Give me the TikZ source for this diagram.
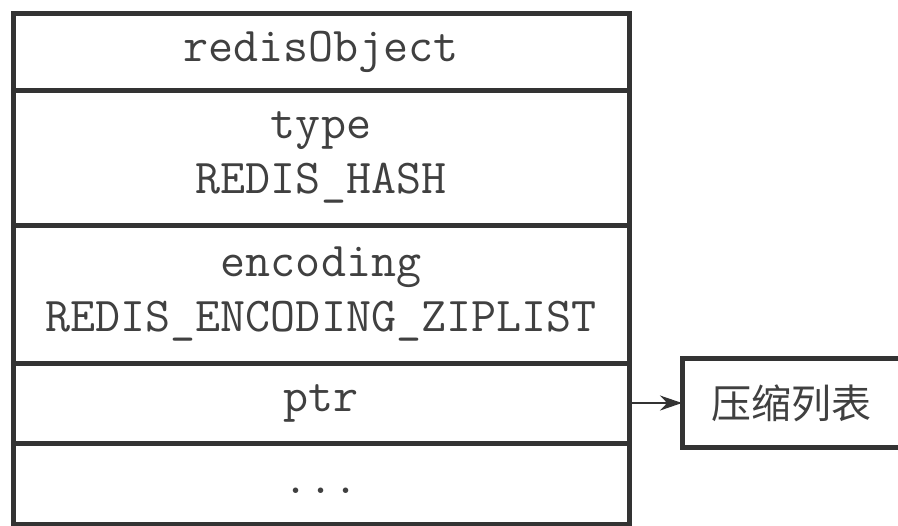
\documentclass[tikz,border=0pt]{standalone}
\usepackage{fontspec}
\newfontfamily\cjk{Noto Sans CJK SC}
\usetikzlibrary{arrows.meta,positioning}
\definecolor{ink}{HTML}{333333}
\definecolor{txt}{HTML}{404040}
\tikzset{
  field/.style={rectangle, draw=ink, fill=white, line width=2.5pt, outer sep=0pt,
                minimum width=308pt, align=center, text=txt, inner sep=0pt,
                font=\fontsize{24.3}{27.5}\selectfont\ttfamily},
  target/.style={rectangle, draw=ink, fill=white, line width=2.5pt, outer sep=0pt,
                 minimum width=109pt, minimum height=44.5pt, text=txt,
                 font=\fontsize{20}{24}\selectfont\cjk},
  link/.style={-{Stealth[length=11pt,width=7.5pt]}, draw=ink, line width=0.75pt}
}
\begin{document}
\begin{tikzpicture}[x=0.5pt, y=-0.5pt]
 \useasboundingbox (0,0) rectangle (898,525);
 \node[field, minimum height=38.5pt] (obj) at (321,51.5) {redisObject};
 \node[field, minimum height=67.5pt, below=0pt of obj] (type) {type\\REDIS\_HASH};
 \node[field, minimum height=69pt, below=0pt of type] (enc) {encoding\\REDIS\_ENCODING\_ZIPLIST};
 \node[field, minimum height=40pt, below=0pt of enc] (ptr) {ptr};
 \node[field, minimum height=40.5pt, text height=10pt, below=0pt of ptr] (rest) {...};
 \node[target, right=26.5pt of ptr] (zl) {压缩列表};
 \draw[link] (ptr) -- (zl);
\end{tikzpicture}
\end{document}
